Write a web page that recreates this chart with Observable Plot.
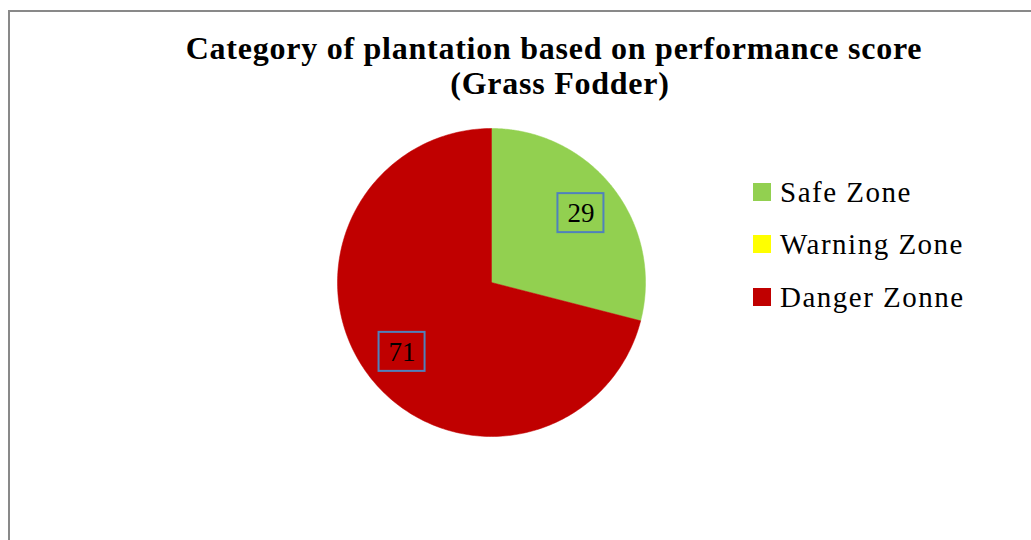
<!DOCTYPE html>
<html>
<head>
<meta charset="utf-8">
<script src="https://cdn.jsdelivr.net/npm/d3@7"></script>
<script src="https://cdn.jsdelivr.net/npm/@observablehq/plot@0.6"></script>
<style>
  html, body { margin: 0; padding: 0; background: #fff; }
  #chart svg { display: block; }
</style>
</head>
<body>
<div id="chart"></div>
<script>
const categories = ["Safe Zone", "Warning Zone", "Danger Zonne"];
const values = [29, 0, 71];
const colors = ["#92D050", "#FFFF00", "#C00000"];
const titleLines = ["Category of plantation based on performance score", "(Grass Fodder)"];

const serif = "'Liberation Serif', 'Times New Roman', serif";

const arcs = d3.pie().sort(null).value(d => d)(values);

// slice outlines (unit circle, angle 0 at 12 o'clock, clockwise)
const slicePts = [];
arcs.forEach((a, i) => {
  if (a.endAngle - a.startAngle <= 0) return;
  const k = categories[i];
  slicePts.push({k, x: 0, y: 0});
  const n = 240;
  for (let j = 0; j <= n; j++) {
    const t = a.startAngle + (a.endAngle - a.startAngle) * j / n;
    slicePts.push({k, x: Math.sin(t), y: Math.cos(t)});
  }
  slicePts.push({k, x: 0, y: 0});
});

const labelR = 0.735;
const labels = arcs
  .map((a, i) => ({k: categories[i], v: values[i], mid: (a.startAngle + a.endAngle) / 2}))
  .filter(d => d.v > 0)
  .map(d => ({...d, x: labelR * Math.sin(d.mid), y: labelR * Math.cos(d.mid)}));

const pxPerUnit = 154;
const boxHW = 23 / pxPerUnit, boxHH = 19.5 / pxPerUnit;

const plot = Plot.plot({
  width: 1031,
  height: 540,
  margin: 0,
  style: {background: "#fff", overflow: "hidden"},
  x: {domain: [-1, 1], range: [491 - pxPerUnit, 491 + pxPerUnit], axis: null},
  y: {domain: [-1, 1], range: [282 + pxPerUnit, 282 - pxPerUnit], axis: null},
  color: {domain: categories, range: colors},
  marks: [
    Plot.line(slicePts, {x: "x", y: "y", z: "k", fill: "k", stroke: "k", strokeWidth: 0.5, curve: "linear"}),
    Plot.rect(labels, {
      x1: d => d.x - boxHW, x2: d => d.x + boxHW,
      y1: d => d.y - boxHH, y2: d => d.y + boxHH,
      fill: "none", stroke: "#4F81BD", strokeWidth: 2
    }),
    Plot.text(labels, {
      x: "x", y: "y", text: d => String(d.v),
      fontSize: 27, fontFamily: serif, fill: "#000",
      textAnchor: "middle", lineAnchor: "middle"
    })
  ]
});

const svg = d3.select(plot);

// chart frame
svg.append("rect")
  .attr("x", 9).attr("y", 11).attr("width", 1200).attr("height", 700)
  .attr("fill", "none").attr("stroke", "#898989").attr("stroke-width", 2);

// title
const titleY = [59, 94];
const titleX = [554, 560];
titleLines.forEach((t, i) => {
  svg.append("text")
    .attr("x", titleX[i]).attr("y", titleY[i])
    .attr("text-anchor", "middle")
    .attr("font-family", serif).attr("font-weight", "bold").attr("font-size", 32)
    .attr("letter-spacing", "0.75px")
    .attr("fill", "#000")
    .text(t);
});

// legend
const legendY = [192, 244, 297];
categories.forEach((c, i) => {
  const g = svg.append("g");
  g.append("rect")
    .attr("x", 753).attr("y", legendY[i] - 9).attr("width", 18).attr("height", 18)
    .attr("fill", colors[i]);
  g.append("text")
    .attr("x", 780).attr("y", legendY[i] + 10)
    .attr("text-anchor", "start")
    .attr("font-family", serif).attr("font-size", 29)
    .attr("letter-spacing", "1.5px")
    .attr("fill", "#000")
    .text(c);
});

document.getElementById("chart").appendChild(plot);
</script>
</body>
</html>
